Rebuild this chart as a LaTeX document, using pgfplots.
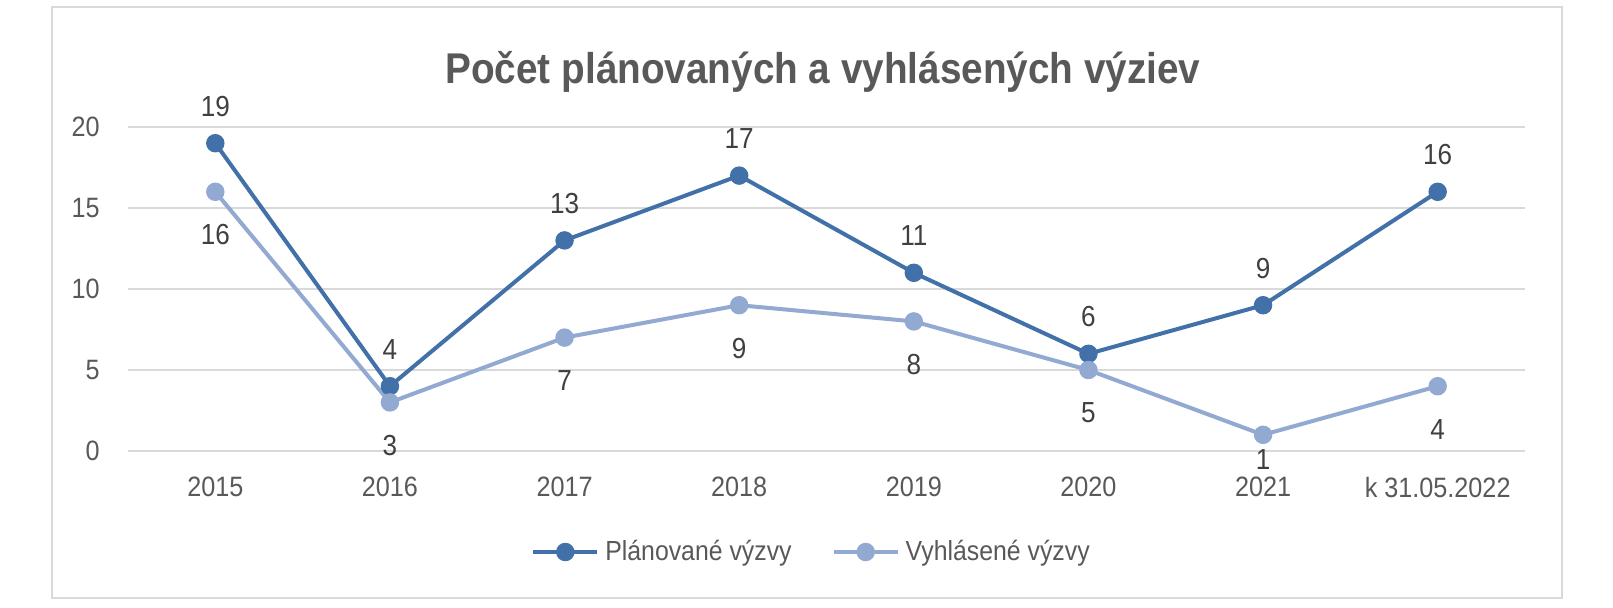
\documentclass[border=0pt]{standalone}
\usepackage{fontspec}
\setmainfont{Liberation Sans}[FakeStretch=0.9]
\usepackage{pgfplots}
\pgfplotsset{compat=1.18}

\definecolor{planned}{HTML}{4270A8}
\definecolor{announced}{HTML}{92A9D1}
\definecolor{gridgray}{HTML}{D9D9D9}
\definecolor{txtgray}{HTML}{595959}
\definecolor{lblgray}{HTML}{404040}

\begin{document}
\begin{tikzpicture}
% page = 1613 x 607 px, 1 px = 0.5pt, origin at lower-left of plot area
\path[use as bounding box, fill=white] (-64pt,-78pt) rectangle (742.5pt,225.5pt);
\draw[gridgray, line width=1.2pt] (-38pt,-73.5pt) rectangle (717pt,222pt);

\begin{axis}[
  scale only axis,
  width=698.5pt,
  height=162pt,
  at={(0pt,0pt)},
  anchor=south west,
  xmin=-0.5, xmax=7.5,
  ymin=0, ymax=20,
  xtick={0,...,7},
  xticklabels={2015,2016,2017,2018,2019,2020,2021,k 31.05.2022},
  ytick={0,5,10,15,20},
  ymajorgrids,
  grid style={gridgray, line width=1pt},
  axis line style={draw=none},
  major tick length=0pt,
  tick label style={font=\fontsize{14}{16}\selectfont, text=txtgray},
  xticklabel style={anchor=center, yshift=-18pt},
  yticklabel style={anchor=east, inner sep=0pt, xshift=-14pt},
  /pgf/number format/assume math mode=true,
  clip=false,
  nodes near coords,
  every node near coord/.append style={font=\fontsize{14.5}{16}\selectfont, text=lblgray, anchor=center, inner sep=0pt},
  legend columns=2,
  legend style={at={(0.49,0)}, anchor=center, yshift=-50.5pt, draw=none,
    font=\fontsize{13.8}{16}\selectfont, text=txtgray,
    /tikz/every even column/.append style={column sep=18pt},
    /tikz/every odd column/.append style={column sep=1pt}},
  legend image code/.code={\draw[mark repeat=2,mark phase=2,#1] plot coordinates {(0pt,0pt) (16pt,0pt) (32pt,0pt)};},
]
\addplot[planned, line width=2pt, mark=*, mark size=3.6pt,
  every node near coord/.append style={yshift=18.5pt}]
  coordinates {(0,19) (1,4) (2,13) (3,17) (4,11) (5,6) (6,9) (7,16)};
\addlegendentry{Plánované výzvy}
\addplot[announced, line width=2pt, mark=*, mark size=3.6pt,
  visualization depends on={\thisrow{off}\as\labeloff},
  every node near coord/.append style={yshift=\labeloff pt}]
  table[x=x, y=y] {
    x y off
    0 16 -21.5
    1 3 -21.5
    2 7 -21.5
    3 9 -21.5
    4 8 -21.5
    5 5 -21.5
    6 1 -12.5
    7 4 -21.5
  };
\addlegendentry{Vyhlásené výzvy}
\end{axis}

\node[font=\bfseries\fontsize{21.5}{26}\selectfont, text=txtgray] at (347.5pt,189.5pt) {Počet plánovaných a vyhlásených výziev};
\end{tikzpicture}
\end{document}
